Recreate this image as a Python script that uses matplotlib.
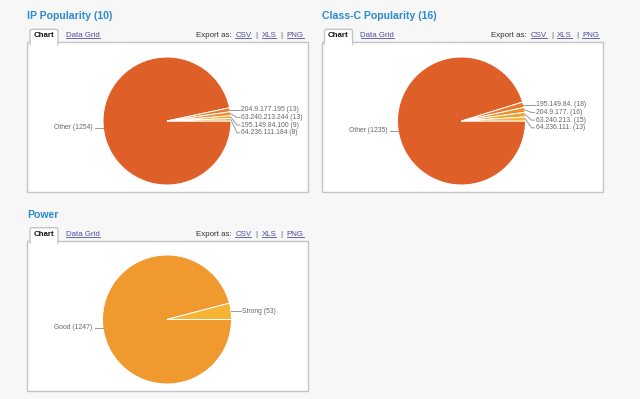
import numpy as np
import matplotlib
matplotlib.use("Agg")
import matplotlib.pyplot as plt
from matplotlib.patches import Rectangle, FancyBboxPatch

plt.rcParams['font.family'] = ['Liberation Sans', 'DejaVu Sans']

# ---- data ----
ip_title = "IP Popularity (10)"
ip_labels = ['Other', '204.9.177.195', '63.240.213.244', '195.149.84.100', '64.236.111.184']
ip_values = [1254, 13, 13, 9, 8]

cc_title = "Class-C Popularity (16)"
cc_labels = ['Other', '195.149.84.', '204.9.177.', '63.240.213.', '64.236.111.']
cc_values = [1235, 18, 16, 15, 13]

pw_title = "Power"
pw_labels = ['Good', 'Strong']
pw_values = [1247, 53]

multi_colors = ['#de5f28', '#e8792d', '#ee8f30', '#f2a232', '#f6b535']
power_colors = ['#f0992f', '#f7b334']

W, H = 640, 399
fig = plt.figure(figsize=(W / 100, H / 100), dpi=100, facecolor='#f7f7f7')
ax = fig.add_axes([0, 0, 1, 1])
ax.set_xlim(0, W)
ax.set_ylim(0, H)
ax.axis('off')


def Y(y):  # pixel-from-top -> axis y
    return H - y


TITLE_C = '#2a8bd0'
LINK_C = '#4d4d9e'
BORDER_C = '#c4c4c4'
TAB_FS = 5.7


def extent(t):
    fig.canvas.draw()
    r = fig.canvas.get_renderer()
    bb = t.get_window_extent(renderer=r)
    inv = ax.transData.inverted()
    (x0, y0), (x1, y1) = inv.transform([[bb.x0, bb.y0], [bb.x1, bb.y1]])
    return x0, y0, x1, y1


def underline(t, color):
    x0, y0, x1, y1 = extent(t)
    ax.plot([x0, x1], [y0 + 1.0, y0 + 1.0], color=color, lw=0.6)


def panel(x0, x1, top, bottom, title):
    ax.text(x0, Y(top - 26), title, fontsize=7.6, fontweight='bold',
            color=TITLE_C, ha='left', va='center')
    ax.add_patch(Rectangle((x0, Y(bottom)), x1 - x0, bottom - top,
                           facecolor='white', edgecolor=BORDER_C, lw=1.0))
    # tab
    tx0, tx1 = x0 + 3, x0 + 31
    ax.add_patch(FancyBboxPatch((tx0, Y(top) - 3), tx1 - tx0, 16,
                                boxstyle='round,pad=0,rounding_size=2',
                                facecolor='white', edgecolor=BORDER_C, lw=1.0))
    ax.add_patch(Rectangle((tx0 + 0.6, Y(top) - 4), tx1 - tx0 - 1.2, 4.5,
                           facecolor='white', edgecolor='none'))
    ax.text((tx0 + tx1) / 2, Y(top - 6.5), 'Chart', fontsize=TAB_FS,
            fontweight='bold', color='#111111', ha='center', va='center')
    t = ax.text(x0 + 39, Y(top - 6.5), 'Data Grid', fontsize=TAB_FS,
                color=LINK_C, ha='left', va='center')
    underline(t, LINK_C)
    xr = x1 - 4
    for it in ['PNG', '|', 'XLS', '|', 'CSV']:
        tt = ax.text(xr, Y(top - 6.5), it, fontsize=TAB_FS,
                     color=LINK_C if it != '|' else '#555555',
                     ha='right', va='center')
        a, b, c, d = extent(tt)
        if it != '|':
            underline(tt, LINK_C)
        xr = a - 4
    ax.text(xr, Y(top - 6.5), 'Export as:', fontsize=TAB_FS, color='#333333',
            ha='right', va='center')


def pie_with_labels(cx, cy, r, labels, values, colors):
    cyu = Y(cy)
    wedges, _ = ax.pie(values, colors=colors, startangle=0, counterclock=False,
                       center=(cx, cyu), radius=r, frame=True,
                       wedgeprops=dict(edgecolor='white', linewidth=0.7))
    right, left = [], []
    for w, lab, v in zip(wedges, labels, values):
        mid = np.deg2rad((w.theta1 + w.theta2) / 2)
        (right if np.cos(mid) > 0 else left).append((mid, lab, v))
    right.sort(key=lambda it: -np.sin(it[0]))
    prev = None
    for mid, lab, v in right:
        ex, ey = cx + r * np.cos(mid), cyu + r * np.sin(mid)
        ly = ey if prev is None else min(ey, prev - 7.7)
        prev = ly
        ax.plot([ex, cx + r + 6, cx + r + 9], [ey, ly, ly], color='#999999', lw=0.7)
        ax.text(cx + r + 10, ly, f"{lab} ({v})", fontsize=4.9, color='#666666',
                ha='left', va='center')
    left.sort(key=lambda it: -np.sin(it[0]))
    prev = None
    for mid, lab, v in left:
        ex, ey = cx + r * np.cos(mid), cyu + r * np.sin(mid)
        ly = ey if prev is None else min(ey, prev - 7.7)
        prev = ly
        ax.plot([ex, cx - r - 8], [ey, ly], color='#999999', lw=0.7)
        ax.text(cx - r - 10, ly, f"{lab} ({v})", fontsize=4.9, color='#666666',
                ha='right', va='center')


panel(27, 307.5, 42.3, 192, ip_title)
panel(321.5, 603, 42.3, 192, cc_title)
panel(27, 307.5, 240.7, 391, pw_title)

pie_with_labels(167, 121, 64, ip_labels, ip_values, multi_colors)
pie_with_labels(461.5, 121, 64, cc_labels, cc_values, multi_colors)
pie_with_labels(167, 319.5, 64.5, pw_labels, pw_values, power_colors)

ax.set_xlim(0, W)
ax.set_ylim(0, H)
ax.set_aspect('auto')
ax.axis('off')

fig.savefig('out.png', dpi=100, facecolor=fig.get_facecolor())
